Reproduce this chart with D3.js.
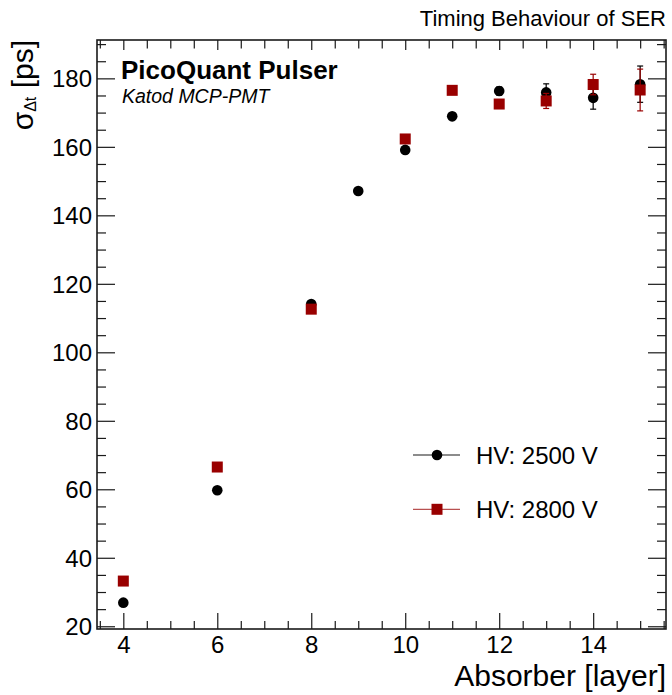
<!DOCTYPE html>
<html><head><meta charset="utf-8">
<script src="https://cdn.jsdelivr.net/npm/d3@7"></script>
<style>body{margin:0;background:#fff} svg{display:block;font-family:"Liberation Sans",Arial,Helvetica,sans-serif}</style>
</head><body><svg id="c" width="672" height="695"></svg>
<script>
const layers2500 = [4, 6, 8, 9, 10, 11, 12, 13, 14, 15];
const sigma2500  = [26.9, 59.7, 114.1, 147.1, 159.1, 168.9, 176.3, 175.9, 174.3, 178.3];
const err2500    = [0.4, 0.5, 0.6, 0.7, 0.8, 0.9, 1.2, 2.5, 3.3, 5.3];
const layers2800 = [4, 6, 8, 10, 11, 12, 13, 14, 15];
const sigma2800  = [33.2, 66.5, 112.6, 162.3, 176.5, 172.5, 173.4, 178.2, 176.6];
const err2800    = [0.4, 0.5, 0.6, 0.8, 0.9, 1.2, 2.2, 3.0, 6.1];
const xMajorTicks = [4, 6, 8, 10, 12, 14];
const yMajorTicks = [20, 40, 60, 80, 100, 120, 140, 160, 180];
const seriesLabels = ["HV: 2500 V", "HV: 2800 V"];
const chartTitle = "Timing Behaviour of SER";
const xTitle = "Absorber [layer]";

const svg = d3.select("#c");
const L = 97, R = 666, T = 40, B = 629;
const x = d3.scaleLinear().domain([3.44, 15.55]).range([L, R]);
const y = d3.scaleLinear().domain([19.2, 191.2]).range([B, T]);
const frameCol = "#1a1a1a";
const red = "#990000";

const xMinor = d3.range(3.5, 15.56, 0.5).filter(v => !xMajorTicks.includes(v));
const yMinor = d3.range(20, 191, 5).filter(v => !yMajorTicks.includes(v));

function tickStyle(g){ g.select(".domain").remove(); g.selectAll("line").attr("stroke", frameCol).attr("stroke-width", 1.2); g.selectAll("text").attr("fill","#000"); }

// bottom axis
svg.append("g").attr("transform", `translate(0,${B})`)
  .call(d3.axisBottom(x).tickValues(xMajorTicks).tickSize(-16).tickPadding(24).tickFormat(d3.format("d")))
  .call(tickStyle).call(g => g.selectAll("text").attr("font-size", 24).attr("font-family","inherit").attr("dy","0"));
svg.append("g").attr("transform", `translate(0,${B})`)
  .call(d3.axisBottom(x).tickValues(xMinor).tickSize(-8).tickFormat("")).call(tickStyle);
// top axis ticks
svg.append("g").attr("transform", `translate(0,${T})`)
  .call(d3.axisTop(x).tickValues(xMajorTicks).tickSize(-10).tickFormat("")).call(tickStyle);
svg.append("g").attr("transform", `translate(0,${T})`)
  .call(d3.axisTop(x).tickValues(xMinor).tickSize(-8.5).tickFormat("")).call(tickStyle);
// left axis
svg.append("g").attr("transform", `translate(${L},0)`)
  .call(d3.axisLeft(y).tickValues(yMajorTicks).tickSize(-18).tickPadding(5).tickFormat(d3.format("d")))
  .call(tickStyle).call(g => g.selectAll("text").attr("font-size", 24).attr("font-family","inherit").attr("dy","0.36em"));
svg.append("g").attr("transform", `translate(${L},0)`)
  .call(d3.axisLeft(y).tickValues(yMinor).tickSize(-9).tickFormat("")).call(tickStyle);
// right axis ticks
svg.append("g").attr("transform", `translate(${R},0)`)
  .call(d3.axisRight(y).tickValues(yMajorTicks).tickSize(-18).tickFormat("")).call(tickStyle);
svg.append("g").attr("transform", `translate(${R},0)`)
  .call(d3.axisRight(y).tickValues(yMinor).tickSize(-9).tickFormat("")).call(tickStyle);

// frame
svg.append("rect").attr("x", L).attr("y", T).attr("width", R - L).attr("height", B - T)
  .attr("fill", "none").attr("stroke", frameCol).attr("stroke-width", 1.6);

// data
function drawSeries(xs, ys, es, color, shape){
  const d = xs.map((v, i) => ({x: v, y: ys[i], e: es[i]}));
  const g = svg.append("g");
  g.selectAll("line.eb").data(d).join("line").attr("class","eb")
    .attr("x1", p => x(p.x)).attr("x2", p => x(p.x))
    .attr("y1", p => y(p.y - p.e)).attr("y2", p => y(p.y + p.e))
    .attr("stroke", color).attr("stroke-width", 1.2);
  ["lo","hi"].forEach(k => {
    g.selectAll("line.cap"+k).data(d).join("line").attr("class","cap"+k)
      .attr("x1", p => x(p.x) - 3).attr("x2", p => x(p.x) + 3)
      .attr("y1", p => y(k === "lo" ? p.y - p.e : p.y + p.e)).attr("y2", p => y(k === "lo" ? p.y - p.e : p.y + p.e))
      .attr("stroke", color).attr("stroke-width", 1.2);
  });
  if (shape === "circle") {
    g.selectAll("circle").data(d).join("circle")
      .attr("cx", p => x(p.x)).attr("cy", p => y(p.y)).attr("r", 5.3).attr("fill", color);
  } else {
    g.selectAll("rect").data(d).join("rect")
      .attr("x", p => x(p.x) - 5.5).attr("y", p => y(p.y) - 5.5).attr("width", 11).attr("height", 11).attr("fill", color);
  }
}
drawSeries(layers2500, sigma2500, err2500, "#000", "circle");
drawSeries(layers2800, sigma2800, err2800, red, "square");

// legend
const leg = [{label: seriesLabels[0], color: "#000", shape: "circle", lc: "#666"}, {label: seriesLabels[1], color: red, shape: "square", lc: "#b85050"}];
leg.forEach((s, i) => {
  const cy = 455 + i * 54.3;
  svg.append("line").attr("x1", 413).attr("x2", 460).attr("y1", cy).attr("y2", cy).attr("stroke", s.lc).attr("stroke-width", 1.3);
  if (s.shape === "circle") svg.append("circle").attr("cx", 437).attr("cy", cy).attr("r", 5.3).attr("fill", s.color);
  else svg.append("rect").attr("x", 437 - 5.5).attr("y", cy - 5.5).attr("width", 11).attr("height", 11).attr("fill", s.color);
  svg.append("text").attr("x", 476).attr("y", cy + 8.5).attr("font-size", 24).attr("fill", "#000").text(s.label);
});

// texts
svg.append("text").attr("x", 666).attr("y", 26).attr("text-anchor", "end").attr("font-size", 22).text(chartTitle);
svg.append("text").attr("x", 121).attr("y", 79).attr("font-size", 26).attr("font-weight", "bold").text("PicoQuant Pulser");
svg.append("text").attr("x", 122).attr("y", 102.5).attr("font-size", 19.5).attr("font-style", "italic").text("Katod MCP-PMT");
svg.append("text").attr("x", 666).attr("y", 686).attr("text-anchor", "end").attr("font-size", 30).text(xTitle);
const yt = svg.append("text").attr("transform", "translate(33,40) rotate(-90)").attr("text-anchor", "end").attr("font-size", 30);
yt.append("tspan").text("σ");
yt.append("tspan").attr("font-size", 16).attr("dy", 3).text("Δt");
yt.append("tspan").attr("dy", -3).text(" [ps]");
</script></body></html>
